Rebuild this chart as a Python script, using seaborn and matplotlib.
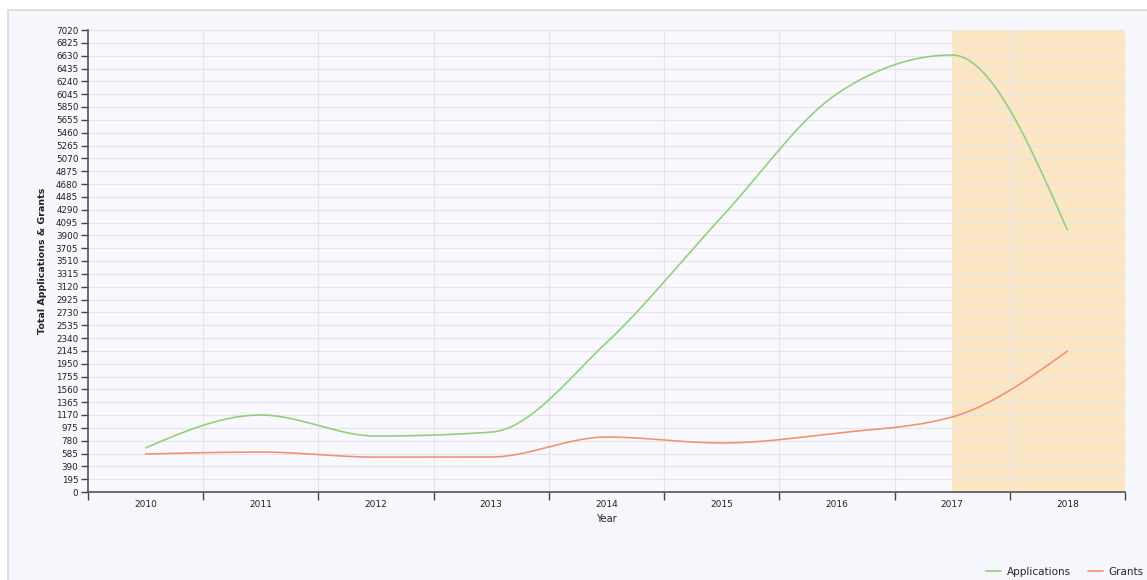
import numpy as np
import pandas as pd
import matplotlib
matplotlib.use("Agg")
import matplotlib.pyplot as plt
from matplotlib.patches import Rectangle
from matplotlib.lines import Line2D
import seaborn as sns

years = ["2010", "2011", "2012", "2013", "2014", "2015", "2016", "2017", "2018"]
applications = [670, 1170, 850, 910, 2270, 4180, 6050, 6640, 3980]
grants = [577, 607, 530, 532, 835, 745, 895, 1140, 2140]
y_ticks = list(range(0, 7021, 195))
highlight_from = "2017"

GREEN = "#8fcf7c"
ORANGE = "#f4906e"


def monotone_x(y, n=40):
    """d3.curveMonotoneX style rendering of a series over unit-spaced x."""
    y = np.asarray(y, float)
    m = len(y)
    s = np.diff(y)
    t = np.zeros(m)
    for i in range(1, m - 1):
        s0, s1 = s[i - 1], s[i]
        p = (s0 + s1) / 2.0
        t[i] = (np.sign(s0) + np.sign(s1)) * min(abs(s0), abs(s1), 0.5 * abs(p))
    t[0] = (3 * s[0] - t[1]) / 2.0
    t[-1] = (3 * s[-1] - t[-2]) / 2.0
    xs, ys = [], []
    for i in range(m - 1):
        u = np.linspace(0, 1, n, endpoint=(i == m - 2))
        h00 = 2 * u**3 - 3 * u**2 + 1
        h10 = u**3 - 2 * u**2 + u
        h01 = -2 * u**3 + 3 * u**2
        h11 = u**3 - u**2
        xs.append(i + u)
        ys.append(h00 * y[i] + h10 * t[i] + h01 * y[i + 1] + h11 * t[i + 1])
    return np.concatenate(xs), np.concatenate(ys)


sns.set_theme(style="white")
plt.rcParams["font.family"] = ["DejaVu Sans"]

fig = plt.figure(figsize=(11.47, 5.8), dpi=100)
fig.patch.set_facecolor("white")
fig.patches.append(Rectangle((8 / 1147, -0.01), 1.1, 1 - 10 / 580 + 0.01,
                             transform=fig.transFigure, facecolor="#f6f6fd",
                             edgecolor="#d8d8d8", linewidth=1.2, zorder=-10))

ax = fig.add_axes([88 / 1147, 1 - 492 / 580, (1125 - 88) / 1147, (492 - 30) / 580])
ax.set_facecolor("#f8f8fe")

rows = []
for name, vals in (("Applications", applications), ("Grants", grants)):
    xs, ys = monotone_x(vals)
    rows.append(pd.DataFrame({"x": xs, "value": ys, "series": name}))
df = pd.concat(rows, ignore_index=True)

hx = years.index(highlight_from)
ax.axvspan(hx, len(years) - 0.5, color="#fde6c3", zorder=0, lw=0)

for yv in y_ticks:
    ax.axhline(yv, color="#e4e4ea", lw=0.8, zorder=1)
for b in np.arange(0.5, len(years) - 0.5, 1):
    ax.axvline(b, color="#e4e4ea", lw=0.8, zorder=1)

sns.lineplot(data=df, x="x", y="value", hue="series", sort=False,
             palette={"Applications": GREEN, "Grants": ORANGE},
             lw=1.15, ax=ax, legend=False, zorder=3)

ax.set_xlim(-0.5, len(years) - 0.5)
ax.set_ylim(0, 7020)
ax.set_xticks(range(len(years)))
ax.set_xticklabels(years, fontsize=6.5, color="#222222")
ax.set_xticks(np.arange(-0.5, len(years), 1), minor=True)
ax.tick_params(axis="x", which="major", bottom=False, length=0, pad=6)
ax.tick_params(axis="x", which="minor", bottom=True, length=6, width=1,
               color="#444444", direction="out")
ax.set_yticks(y_ticks)
ax.set_yticklabels([str(v) for v in y_ticks], fontsize=6.3, color="#222222")
ax.tick_params(axis="y", left=True, length=5, width=1, color="#444444",
               direction="out", pad=2)

for side in ("top", "right"):
    ax.spines[side].set_visible(False)
for side in ("left", "bottom"):
    ax.spines[side].set_color("#555555")
    ax.spines[side].set_linewidth(1.2)

ax.set_xlabel("Year", fontsize=7, color="#222222", labelpad=3)
ax.set_ylabel("Total Applications & Grants", fontsize=6.8, fontweight="bold",
              color="#222222", labelpad=6)

handles = [Line2D([], [], color=GREEN, lw=1.2), Line2D([], [], color=ORANGE, lw=1.2)]
fig.legend(handles, ["Applications", "Grants"], loc="center right",
           bbox_to_anchor=(1144 / 1147, 1 - 572 / 580), ncol=2, frameon=False,
           fontsize=7.5, handlelength=1.4, handletextpad=0.6, columnspacing=1.6,
           borderaxespad=0, borderpad=0)

fig.savefig("out.png", dpi=100, facecolor=fig.get_facecolor())
